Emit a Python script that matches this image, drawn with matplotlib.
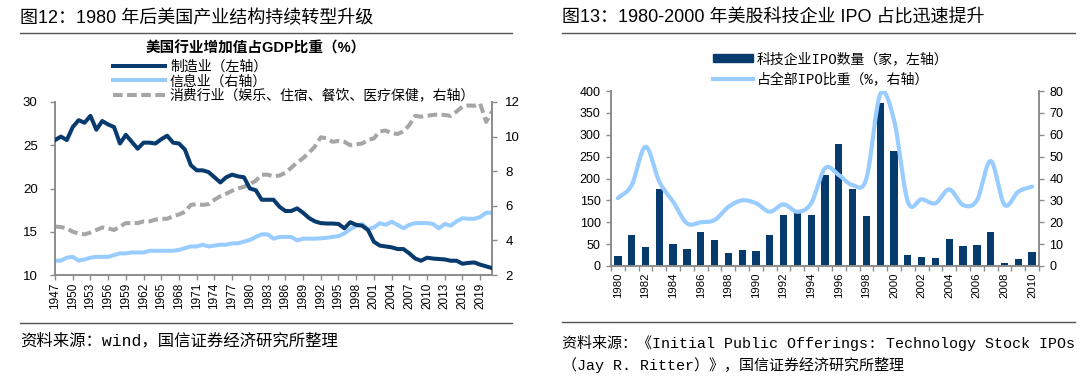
import numpy as np
import matplotlib
matplotlib.use('Agg')
import matplotlib.pyplot as plt
from matplotlib.patches import Patch
from matplotlib.lines import Line2D

plt.rcParams['font.family'] = ['Liberation Sans', 'Noto Sans CJK SC']

# ---- left chart data: share of GDP (%) ----
years = list(range(1947, 2022))
manufacturing = [
  25.6, 26.0, 25.6, 27.1, 27.9, 27.6, 28.4, 26.8, 27.8, 27.4,   # 1947-1956
  27.1, 25.2, 26.2, 25.4, 24.6, 25.3, 25.3, 25.2, 25.7, 26.1,   # 1957-1966
  25.3, 25.2, 24.5, 22.7, 22.1, 22.1, 21.9, 21.3, 20.7, 21.3,   # 1967-1976
  21.6, 21.4, 21.3, 20.0, 19.8, 18.7, 18.7, 18.7, 17.9, 17.4,   # 1977-1986
  17.4, 17.7, 17.2, 16.6, 16.2, 16.0, 15.95, 15.95, 15.9, 15.4, # 1987-1996
  16.1, 15.8, 15.7, 15.2, 13.85, 13.4, 13.3, 13.2, 13.0, 13.0,  # 1997-2006
  12.5, 11.9, 11.65, 12.0, 11.9, 11.85, 11.8, 11.65, 11.65, 11.3, # 2007-2016
  11.4, 11.45, 11.2, 11.0, 10.8,                                # 2017-2021
]
information = [
  2.83, 2.83, 3.0, 3.05, 2.83, 2.9, 3.0, 3.05, 3.05, 3.05,
  3.15, 3.25, 3.25, 3.3, 3.3, 3.3, 3.4, 3.4, 3.4, 3.4,
  3.4, 3.45, 3.55, 3.65, 3.65, 3.75, 3.65, 3.7, 3.75, 3.75,
  3.83, 3.83, 3.93, 4.02, 4.2, 4.35, 4.35, 4.1, 4.2, 4.2,
  4.2, 4.0, 4.1, 4.1, 4.1, 4.12, 4.15, 4.2, 4.25, 4.4,
  4.65, 4.83, 4.95, 4.65, 4.75, 5.0, 4.9, 5.08, 4.9, 4.7,
  4.9, 5.0, 5.0, 5.0, 4.95, 4.7, 4.95, 4.85, 5.1, 5.28,
  5.25, 5.25, 5.35, 5.6, 5.6,
]
consumer = [
  4.8, 4.77, 4.7, 4.5, 4.4, 4.35, 4.45, 4.6, 4.75, 4.7,
  4.6, 4.8, 5.0, 5.0, 5.0, 5.1, 5.1, 5.2, 5.25, 5.25,
  5.4, 5.5, 5.65, 6.05, 6.1, 6.05, 6.1, 6.35, 6.55, 6.7,
  6.87, 7.0, 7.1, 7.25, 7.45, 7.8, 7.8, 7.7, 7.75, 7.9,
  8.2, 8.5, 8.75, 9.07, 9.42, 9.96, 9.9, 9.7, 9.75, 9.7,
  9.5, 9.55, 9.6, 9.8, 9.9, 10.3, 10.35, 10.2, 10.15, 10.3,
  10.67, 11.2, 11.15, 11.2, 11.25, 11.28, 11.25, 11.2, 11.45, 11.73,
  11.8, 11.78, 11.9, 10.85, 11.45,
]

# ---- right chart data: tech IPOs ----
ipo_years = list(range(1980, 2011))
tech_ipo_count = [23, 72, 43, 175, 50, 38, 78, 60, 29, 36, 34, 72, 117, 122, 117,
                  207, 278, 175, 114, 372, 263, 25, 21, 19, 61, 46, 49, 77, 7, 15, 33]
tech_ipo_share = [31, 37, 54.5, 38.5, 29.4, 19.5, 20, 21, 27, 30, 28.7, 24.8, 28.2, 24.8, 28.7,
                  44.7, 41.6, 37, 40, 78.5, 66.7, 29.4, 30.5, 28.7, 35, 27.9, 30, 48, 28, 34, 36.3]

NAVY = '#073B6E'
LIGHT = '#99CCFF'
GREY = '#A6A6A6'
SPINE = '#8C8C8C'
W, H = 1080, 378
MONO_CJK = ['Liberation Mono', 'Noto Sans CJK SC']


def fx(px):
  return px / W


def fy(py):
  return 1 - py / H


def smooth(xs, ys, n=20):
  # Catmull-Rom curve through the points (like Excel's smoothed line)
  xs = np.asarray(xs, float)
  ys = np.asarray(ys, float)
  px = np.concatenate([[2 * xs[0] - xs[1]], xs, [2 * xs[-1] - xs[-2]]])
  py = np.concatenate([[2 * ys[0] - ys[1]], ys, [2 * ys[-1] - ys[-2]]])
  ox, oy = [], []
  t = np.linspace(0, 1, n, endpoint=False)
  for i in range(1, len(px) - 2):
    for p, o in ((px, ox), (py, oy)):
      p0, p1, p2, p3 = p[i - 1], p[i], p[i + 1], p[i + 2]
      o.extend(0.5 * (2 * p1 + (-p0 + p2) * t + (2 * p0 - 5 * p1 + 4 * p2 - p3) * t ** 2
                      + (-p0 + 3 * p1 - 3 * p2 + p3) * t ** 3))
  ox.append(xs[-1])
  oy.append(ys[-1])
  return np.array(ox), np.array(oy)


def style_spines(ax):
  for s in ax.spines.values():
    s.set_color(SPINE)
    s.set_linewidth(1.2)
  ax.spines['top'].set_visible(False)
  ax.tick_params(colors=SPINE, labelcolor='black', width=1.0, length=3.5)


fig = plt.figure(figsize=(10.8, 3.78), dpi=100)

# ================= left panel =================
fig.text(fx(20), fy(18), '图12：1980 年后美国产业结构持续转型升级', fontsize=13, va='center', ha='left')
fig.add_artist(Line2D([fx(20), fx(512)], [fy(33), fy(33)], color='#555555', lw=1.0))
fig.add_artist(Line2D([fx(20), fx(512)], [fy(323), fy(323)], color='#555555', lw=1.0))
fig.text(fx(20), fy(341), '资料来源：wind，国信证券经济研究所整理', fontsize=11.8, va='center', ha='left',
         family=MONO_CJK)
fig.text(fx(256), fy(48), '美国行业增加值占GDP比重（%）', fontsize=10.5, fontweight='bold',
         va='center', ha='center')

ax1 = fig.add_axes([fx(55), fy(275), fx(492 - 55), (275 - 102) / H])
ax2 = ax1.twinx()
l1, = ax1.plot(years, manufacturing, color=NAVY, lw=2.9, solid_joinstyle='round', zorder=3)
l2, = ax2.plot(years, information, color=LIGHT, lw=2.9, solid_joinstyle='round')
l3, = ax2.plot(years, consumer, color=GREY, lw=2.9, dashes=(2.4, 1.1))
ax1.set_zorder(ax2.get_zorder() + 1)
ax1.patch.set_visible(False)
ax1.set_xlim(1947, 2021)
ax1.set_ylim(10, 30)
ax1.set_yticks(range(10, 31, 5))
ax2.set_ylim(2, 12)
ax2.set_yticks(range(2, 13, 2))
ax1.set_xticks(range(1947, 2022, 3))
ax1.set_xticklabels([str(y) for y in range(1947, 2022, 3)], rotation=90, fontsize=8.5)
for ax in (ax1, ax2):
  style_spines(ax)
ax1.tick_params(axis='y', labelsize=9.5, pad=9)
ax2.tick_params(axis='y', labelsize=9.5, pad=6)
ax1.tick_params(axis='x', pad=2)

fig.legend([l1, l2, l3], ['制造业（左轴）', '信息业（右轴）', '消费行业（娱乐、住宿、餐饮、医疗保健，右轴）'],
           loc='upper left', bbox_to_anchor=(fx(113), fy(60)), frameon=False, fontsize=10,
           handlelength=3.75, handletextpad=0.35, labelspacing=0.02, borderpad=0, borderaxespad=0)

# ================= right panel =================
fig.text(fx(562), fy(18), '图13：1980-2000 年美股科技企业 IPO 占比迅速提升', fontsize=13, va='center', ha='left')
fig.add_artist(Line2D([fx(562), fx(1075)], [fy(33), fy(33)], color='#555555', lw=1.0))
fig.add_artist(Line2D([fx(562), fx(1075)], [fy(322), fy(322)], color='#555555', lw=1.0))
fig.text(fx(562), fy(343), '资料来源：《Initial Public Offerings: Technology Stock IPOs', fontsize=10.8,
         va='center', ha='left', family=MONO_CJK)
fig.text(fx(562), fy(365), '（Jay R. Ritter）》，国信证券经济研究所整理', fontsize=10.8,
         va='center', ha='left', family=MONO_CJK)

ax3 = fig.add_axes([fx(611), fy(266), fx(1039 - 611), (266 - 91) / H])
ax4 = ax3.twinx()
idx = np.arange(len(ipo_years))
bars = ax3.bar(idx, tech_ipo_count, width=0.53, color=NAVY, zorder=2)
sx, sy = smooth(idx, tech_ipo_share)
l4, = ax4.plot(sx, sy, color=LIGHT, lw=3.0, solid_capstyle='round')
ax3.set_xlim(-0.5, len(ipo_years) - 0.5)
ax3.set_ylim(0, 400)
ax3.set_yticks(range(0, 401, 50))
ax4.set_ylim(0, 80)
ax4.set_yticks(range(0, 81, 10))
ax3.set_xticks(idx[::2])
ax3.set_xticklabels([str(y) for y in ipo_years[::2]], rotation=90, fontsize=8.2)
ax3.set_xticks(np.arange(-0.5, len(ipo_years), 1), minor=True)
for ax in (ax3, ax4):
  style_spines(ax)
ax3.tick_params(axis='x', which='major', length=0, pad=5)
ax3.tick_params(axis='x', which='minor', colors=SPINE, length=3.5, width=1.0)
ax3.tick_params(axis='y', labelsize=9, pad=4)
ax4.tick_params(axis='y', labelsize=9, pad=4)

fig.legend([Patch(color=NAVY), Line2D([], [], color=LIGHT, lw=3.0)],
           ['科技企业IPO数量（家，左轴）', '占全部IPO比重（%，右轴）'],
           loc='upper left', bbox_to_anchor=(fx(713), fy(52)), frameon=False,
           prop={'family': MONO_CJK, 'size': 10},
           handlelength=2.9, handleheight=0.5, handletextpad=0.25, labelspacing=0.45,
           borderpad=0, borderaxespad=0)

fig.savefig('out.png', dpi=100)
